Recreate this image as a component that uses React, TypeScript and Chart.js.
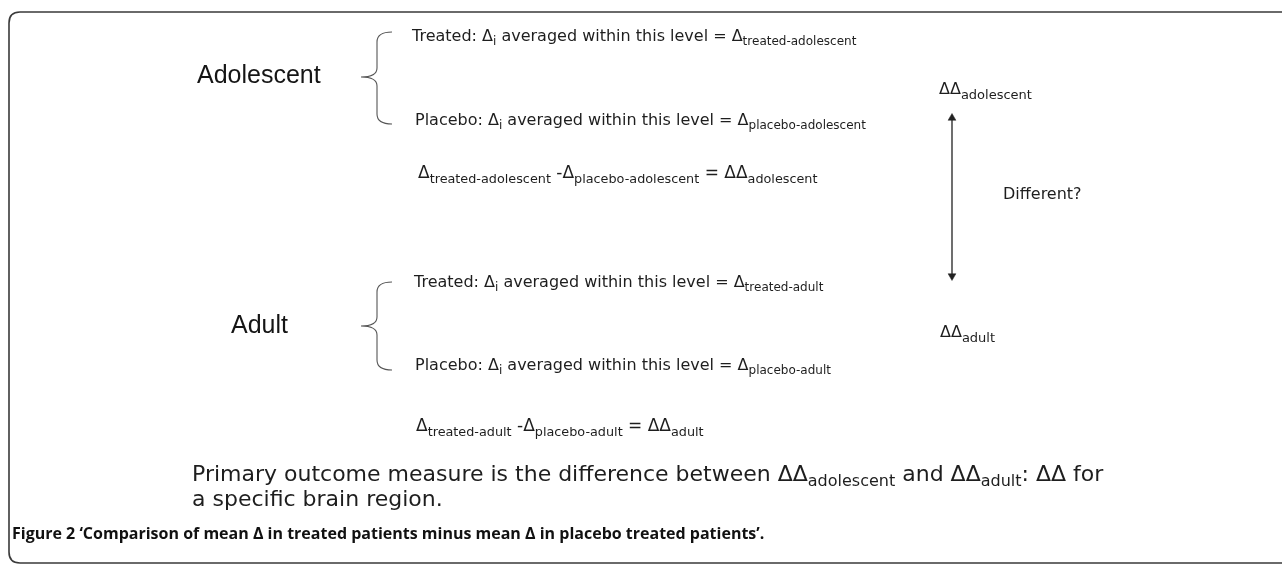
import { useEffect, useRef } from "react";
import { Chart, registerables } from "chart.js";

Chart.register(...registerables);

const W = 1282;
const H = 565;

// ---- diagram content (data units = layout units of the figure) ----
const labelTexts = [
  "Adolescent",
  "Treated: Δ_{i} averaged within this level = Δ_{treated-adolescent}",
  "Placebo: Δ_{i} averaged within this level = Δ_{placebo-adolescent}",
  "Δ_{treated-adolescent} -Δ_{placebo-adolescent} = ΔΔ_{adolescent}",
  "ΔΔ_{adolescent}",
  "Different?",
  "Adult",
  "Treated: Δ_{i} averaged within this level = Δ_{treated-adult}",
  "ΔΔ_{adult}",
  "Placebo: Δ_{i} averaged within this level = Δ_{placebo-adult}",
  "Δ_{treated-adult} -Δ_{placebo-adult} = ΔΔ_{adult}",
  "Primary outcome measure is the difference between ΔΔ_{adolescent} and ΔΔ_{adult}: ΔΔ for",
  "a specific brain region.",
  "Figure 2 ‘Comparison of mean Δ in treated patients minus mean Δ in placebo treated patients’.",
];
const labelX = [197, 412, 415, 418, 939, 1003, 231, 414, 940, 415, 416, 192, 192, 12];
const labelY = [83, 41, 125, 178, 94, 199, 333, 287, 337, 370, 431, 481, 506, 539];
const labelKind = [
  "group", "line", "line", "diff", "tag", "line", "group",
  "line", "tag", "line", "diff", "note", "note", "caption",
];

const braceTipX = [361, 361];
const braceTopY = [32, 282];
const braceTipY = [77, 326];
const braceBottomY = [124, 370];

const arrowX = [952, 952];
const arrowY = [118, 276];

const frameLeft = 9;
const frameTop = 12;
const frameBottom = 563;
const frameRight = 1300;

// ---- styles ----
const kindStyles: Record<string, any> = {
  group: { family: "'Liberation Sans', Arial, sans-serif", size: 25, sub: 18, dy: 5, weight: "normal", color: "#151515" },
  line: { family: "'DejaVu Sans', Verdana, sans-serif", size: 16, sub: 12, dy: 4, weight: "normal", color: "#1e1e1e" },
  diff: { family: "'DejaVu Sans', Verdana, sans-serif", size: 17, sub: 12.8, dy: 4.5, weight: "normal", color: "#1e1e1e" },
  tag: { family: "'DejaVu Sans', Verdana, sans-serif", size: 16, sub: 13, dy: 4.5, weight: "normal", color: "#1e1e1e" },
  note: { family: "'DejaVu Sans', Verdana, sans-serif", size: 22, sub: 16, dy: 5, weight: "normal", color: "#1e1e1e" },
  caption: { family: "'Open Sans', 'Noto Sans', sans-serif", size: 16, sub: 11, dy: 3, weight: "bold", color: "#111" },
};

function parseRich(s: string) {
  const parts: { t: string; sub: boolean }[] = [];
  const re = /_\{([^}]*)\}/g;
  let last = 0;
  let m: RegExpExecArray | null;
  while ((m = re.exec(s))) {
    if (m.index > last) parts.push({ t: s.slice(last, m.index), sub: false });
    parts.push({ t: m[1], sub: true });
    last = re.lastIndex;
  }
  if (last < s.length) parts.push({ t: s.slice(last), sub: false });
  return parts;
}

const diagramPlugin = {
  id: "diagram",
  beforeDatasetsDraw(chart: any) {
    const { ctx, scales } = chart;
    const xs = scales.x;
    const ys = scales.y;
    const l = xs.getPixelForValue(frameLeft);
    const t = ys.getPixelForValue(frameTop);
    const b = ys.getPixelForValue(frameBottom);
    const r = xs.getPixelForValue(frameRight);
    const rad = 11;
    ctx.save();
    ctx.strokeStyle = "#3a3a3a";
    ctx.lineWidth = 1.6;
    ctx.beginPath();
    ctx.moveTo(r, t);
    ctx.lineTo(l + rad, t);
    ctx.quadraticCurveTo(l, t, l, t + rad);
    ctx.lineTo(l, b - rad);
    ctx.quadraticCurveTo(l, b, l + rad, b);
    ctx.lineTo(r, b);
    ctx.stroke();

    // braces
    ctx.strokeStyle = "#555";
    ctx.lineWidth = 1.1;
    for (let i = 0; i < braceTipX.length; i++) {
      const tipX = xs.getPixelForValue(braceTipX[i]);
      const top = ys.getPixelForValue(braceTopY[i]);
      const tip = ys.getPixelForValue(braceTipY[i]);
      const bot = ys.getPixelForValue(braceBottomY[i]);
      const spine = tipX + 16;
      const end = tipX + 31;
      ctx.beginPath();
      ctx.moveTo(end, top);
      ctx.quadraticCurveTo(spine, top, spine, top + 10);
      ctx.lineTo(spine, tip - 9);
      ctx.quadraticCurveTo(spine, tip, tipX, tip);
      ctx.quadraticCurveTo(spine, tip, spine, tip + 9);
      ctx.lineTo(spine, bot - 10);
      ctx.quadraticCurveTo(spine, bot, end, bot);
      ctx.stroke();
    }
    ctx.restore();
  },
  afterDatasetsDraw(chart: any) {
    const { ctx } = chart;
    const meta = chart.getDatasetMeta(0);
    ctx.save();
    ctx.textAlign = "left";
    ctx.textBaseline = "alphabetic";
    meta.data.forEach((pt: any, i: number) => {
      const st = kindStyles[labelKind[i]];
      let x = pt.x;
      const y = pt.y;
      ctx.fillStyle = st.color;
      for (const p of parseRich(labelTexts[i])) {
        ctx.font = `${st.weight} ${p.sub ? st.sub : st.size}px ${st.family}`;
        ctx.fillText(p.t, x, p.sub ? y + st.dy : y);
        x += ctx.measureText(p.t).width;
      }
    });
    ctx.restore();
  },
};

export default function App() {
  const ref = useRef<HTMLCanvasElement | null>(null);
  useEffect(() => {
    if (!ref.current) return;
    const chart = new Chart(ref.current, {
      type: "scatter",
      data: {
        datasets: [
          {
            label: "labels",
            data: labelX.map((x, i) => ({ x, y: labelY[i] })),
            pointRadius: 0,
            showLine: false,
          },
          {
            label: "arrow",
            data: arrowX.map((x, i) => ({ x, y: arrowY[i] })),
            showLine: true,
            borderColor: "#222",
            borderWidth: 1.3,
            pointStyle: "triangle",
            pointRadius: 4.5,
            pointRotation: [0, 180] as any,
            pointBackgroundColor: "#222",
            pointBorderColor: "#222",
            pointBorderWidth: 0.5,
          },
        ],
      },
      options: {
        responsive: false,
        animation: false,
        events: [],
        layout: { padding: 0, autoPadding: false },
        plugins: { legend: { display: false }, tooltip: { enabled: false } },
        scales: {
          x: { type: "linear", min: 0, max: W, display: false },
          y: { type: "linear", min: 0, max: H, reverse: true, display: false },
        },
      },
      plugins: [diagramPlugin],
    });
    return () => chart.destroy();
  }, []);
  return (
    <div style={{ position: "fixed", left: 0, top: 0, width: W, height: H, background: "#fff" }}>
      <canvas ref={ref} width={W} height={H} />
    </div>
  );
}
